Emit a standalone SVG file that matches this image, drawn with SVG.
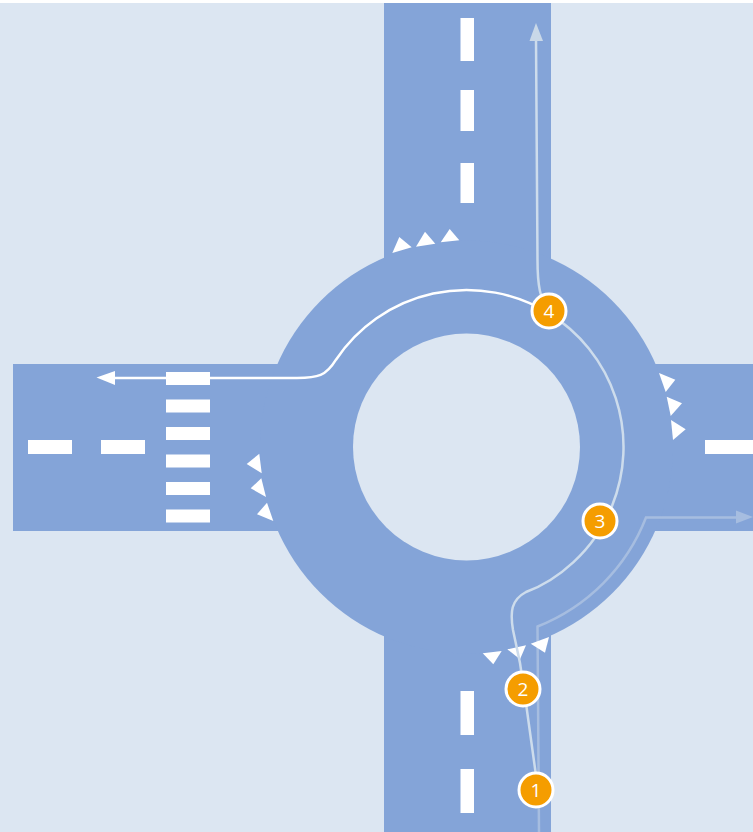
<svg xmlns="http://www.w3.org/2000/svg" width="753" height="832" viewBox="0 0 753 832">
<style>
.road{fill:#84a4d8}
.mark{fill:#fff}
.pale{fill:none;stroke:#cddcec;stroke-width:2.5}
.faded{fill:none;stroke:#a6bde0;stroke-width:2.5}
.white{fill:none;stroke:#fff;stroke-width:2.5}
.badge circle{fill:#f59d00;stroke:#fff;stroke-width:3}
.badge text{font-family:"Open Sans","Noto Sans",sans-serif;font-size:19px;fill:#fff;text-anchor:middle}
</style>
<rect x="0" y="0" width="753" height="832" fill="#fff"/>
<rect x="0" y="3" width="753" height="829" fill="#dce6f2"/>
<g id="road">
<rect class="road" x="384" y="3" width="167" height="829"/>
<rect class="road" x="13" y="364" width="740" height="167"/>
<circle class="road" cx="466.5" cy="447" r="206.5"/>
<circle cx="466.5" cy="447" r="113.5" fill="#dce6f2"/>
</g>
<g id="markings" class="mark">
<rect x="460.5" y="18" width="13.5" height="43"/>
<rect x="460.5" y="90" width="13.5" height="41"/>
<rect x="460.5" y="163" width="13.5" height="40"/>
<rect x="460.5" y="691" width="13.5" height="44"/>
<rect x="460.5" y="769" width="13.5" height="44"/>
<rect x="28" y="440" width="44" height="14"/>
<rect x="101" y="440" width="44" height="14"/>
<rect x="705" y="440" width="48" height="14"/>
</g>
<g id="crossing" class="mark">
<rect x="166" y="372" width="44" height="13"/>
<rect x="166" y="399.5" width="44" height="13"/>
<rect x="166" y="427" width="44" height="13"/>
<rect x="166" y="454.5" width="44" height="13"/>
<rect x="166" y="482" width="44" height="13"/>
<rect x="166" y="509.5" width="44" height="13"/>
</g>
<g id="connector-exit">
<path class="faded" d="M539 832L537.500 626.500A192 192 0 0 0 646 517.500H738"/>
<polygon points="753,517 736,510.500 736,523.500" fill="#a6bde0"/>
</g>
<g id="yield-lines" class="mark">
<polygon points="482.7,653.3 501.7,651 493.3,664.3"/>
<polygon points="507.3,649.3 526,645.3 520,659.3"/>
<polygon points="530.7,643.7 549,637 545,652.7"/>
<polygon points="392.3,253 399.3,237 411.7,247.3"/>
<polygon points="416,246.7 425,231.7 435.3,243.7"/>
<polygon points="440.7,242.3 449.7,229 459.3,240.3"/>
<polygon points="246.7,464 259.3,453.7 261.7,473.3"/>
<polygon points="250.7,488.3 261.3,478.3 266,497"/>
<polygon points="257,514.3 267,502.7 273.3,521"/>
<polygon points="659,373 675.3,379.7 665.7,392"/>
<polygon points="666.7,396.7 682,403.3 670.7,416"/>
<polygon points="671,420 685.7,429.3 673,440"/>
</g>
<g id="connectors">
<path class="pale" d="M538 790L526.500 707L520 663L513 630C510 612 511 600 526 592C556 581 594 552 612 506A157 157 0 0 0 549 313.400"/>
<path class="pale" d="M549 311C540 300 537.500 285 537.500 260L536 38"/>
<polygon points="536,23 529.500,41 543,41" fill="#c9d8e8"/>
<path class="white" d="M549 313.400A157 157 0 0 0 336 359.700C326 376 318 378 297 378H112"/>
<polygon points="96.500,377.500 115,371 115,385" fill="#fff"/>
</g>
<g id="node-1" class="badge"><circle cx="536" cy="790" r="17"/><text x="536" y="797">1</text></g>
<g id="node-2" class="badge"><circle cx="523" cy="689" r="17"/><text x="523" y="696">2</text></g>
<g id="node-3" class="badge"><circle cx="600" cy="521" r="17"/><text x="600" y="528">3</text></g>
<g id="node-4" class="badge"><circle cx="549" cy="311" r="17"/><text x="549" y="318">4</text></g>
</svg>
